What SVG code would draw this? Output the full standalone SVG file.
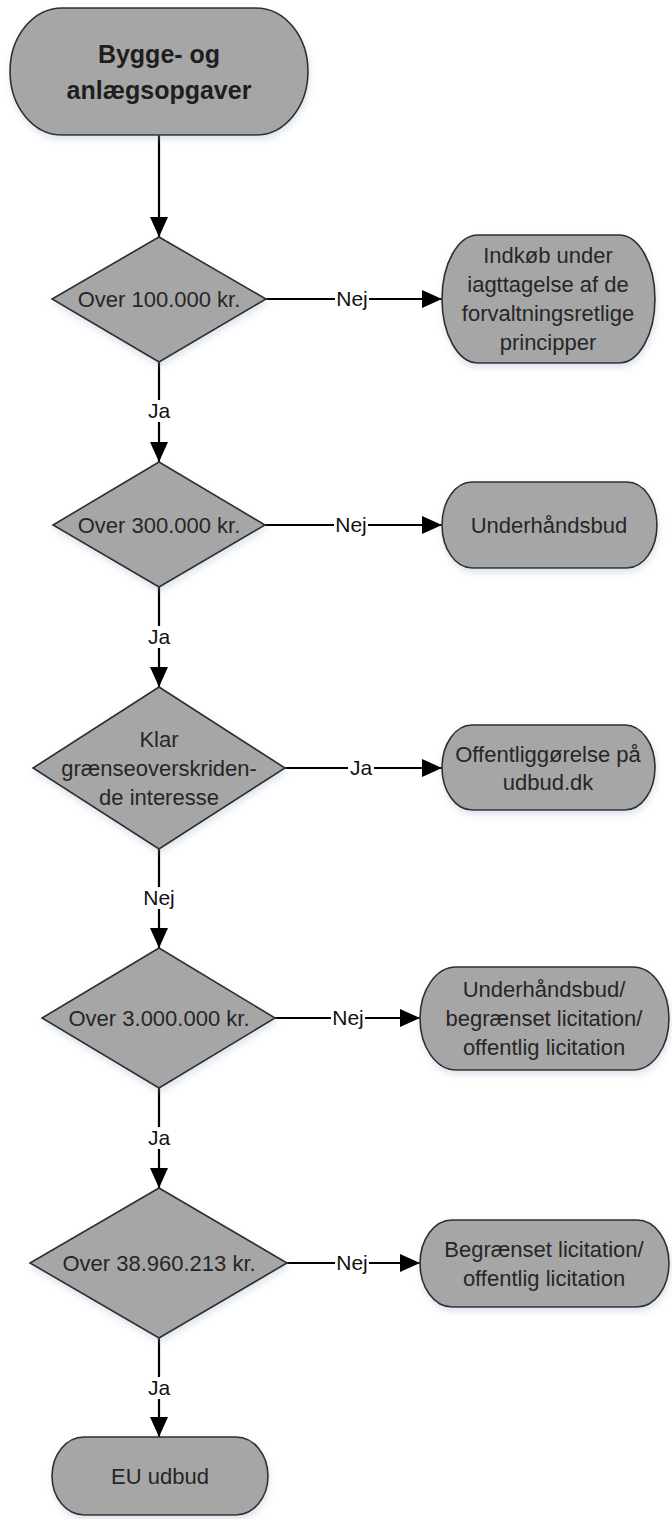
<svg xmlns="http://www.w3.org/2000/svg" width="672" height="1519" viewBox="0 0 672 1519">
<defs>
<style>
.shape{fill:#a6a6a6;stroke:#2e2e2e;stroke-width:1.6;filter:url(#sh)}
.t{font-family:"Liberation Sans",Arial,sans-serif;font-size:22px;fill:#262626;text-anchor:middle}
.tb{font-family:"Liberation Sans",Arial,sans-serif;font-size:25px;font-weight:bold;fill:#1e1e1e;text-anchor:middle}
.c{stroke:#000;stroke-width:2.2;fill:none;marker-end:url(#ah)}
.lb{fill:#fff}
.l{font-family:"Liberation Sans",Arial,sans-serif;font-size:21px;fill:#111;text-anchor:middle}
</style>
<filter id="sh" x="-10%" y="-10%" width="125%" height="135%">
<feDropShadow dx="1" dy="4" stdDeviation="3.5" flood-color="#9db4cc" flood-opacity="0.35"/>
</filter>
<marker id="ah" markerUnits="userSpaceOnUse" markerWidth="20" markerHeight="18" refX="20" refY="9" orient="auto">
<path d="M0,0 L20,9 L0,18 z" fill="#000"/>
</marker>
</defs>
<rect width="672" height="1519" fill="#fff"/>

<g id="connectors">
<line class="c" x1="159" y1="135" x2="159" y2="237"/>
<line class="c" x1="266" y1="299" x2="442" y2="299"/>
<line class="c" x1="159" y1="362" x2="159" y2="462"/>
<line class="c" x1="265" y1="525" x2="442" y2="525"/>
<line class="c" x1="159" y1="587" x2="159" y2="687"/>
<line class="c" x1="285" y1="768" x2="442" y2="768"/>
<line class="c" x1="159" y1="849" x2="159" y2="948"/>
<line class="c" x1="275" y1="1018" x2="420" y2="1018"/>
<line class="c" x1="159" y1="1088" x2="159" y2="1188"/>
<line class="c" x1="287" y1="1263" x2="420" y2="1263"/>
<line class="c" x1="159" y1="1338" x2="159" y2="1437"/>
<g id="labels">
<rect class="lb" x="335" y="288" width="34" height="22"/><text class="l" x="352" y="306">Nej</text>
<rect class="lb" x="146" y="400" width="26" height="22"/><text class="l" x="159" y="418">Ja</text>
<rect class="lb" x="334" y="514" width="34" height="22"/><text class="l" x="351" y="532">Nej</text>
<rect class="lb" x="146" y="626" width="26" height="22"/><text class="l" x="159" y="644">Ja</text>
<rect class="lb" x="348" y="757" width="26" height="22"/><text class="l" x="361" y="775">Ja</text>
<rect class="lb" x="142" y="887" width="34" height="22"/><text class="l" x="159" y="905">Nej</text>
<rect class="lb" x="331" y="1007" width="34" height="22"/><text class="l" x="348" y="1025">Nej</text>
<rect class="lb" x="146" y="1127" width="26" height="22"/><text class="l" x="159" y="1145">Ja</text>
<rect class="lb" x="335" y="1252" width="34" height="22"/><text class="l" x="352" y="1270">Nej</text>
<rect class="lb" x="146" y="1377" width="26" height="22"/><text class="l" x="159" y="1395">Ja</text>
</g>
</g>

<g id="start">
<rect class="shape" x="10" y="8" width="298" height="127" rx="52" ry="63.5"/>
<text class="tb" x="159" y="63">Bygge- og</text>
<text class="tb" x="159" y="99">anlægsopgaver</text>
</g>

<g id="d1">
<polygon class="shape" points="159,237 266,299 159,362 52,299"/>
<text class="t" x="159" y="307">Over 100.000 kr.</text>
</g>
<g id="n1">
<rect class="shape" x="442" y="235" width="213" height="128" rx="36" ry="64"/>
<text class="t" x="548" y="263">Indkøb under</text>
<text class="t" x="548" y="292">iagttagelse af de</text>
<text class="t" x="548" y="321">forvaltningsretlige</text>
<text class="t" x="548" y="350">principper</text>
</g>

<g id="d2">
<polygon class="shape" points="159,462 265,525 159,587 53,525"/>
<text class="t" x="159" y="533">Over 300.000 kr.</text>
</g>
<g id="n2">
<rect class="shape" x="442" y="482" width="215" height="86" rx="30" ry="43"/>
<text class="t" x="549" y="533">Underhåndsbud</text>
</g>

<g id="d3">
<polygon class="shape" points="159,687 285,768 159,849 33,768"/>
<text class="t" x="159" y="747">Klar</text>
<text class="t" x="159" y="776">grænseoverskriden-</text>
<text class="t" x="159" y="805">de interesse</text>
</g>
<g id="n3">
<rect class="shape" x="442" y="725" width="213" height="85" rx="30" ry="42.5"/>
<text class="t" x="548" y="762">Offentliggørelse på</text>
<text class="t" x="548" y="790">udbud.dk</text>
</g>

<g id="d4">
<polygon class="shape" points="159,948 275,1018 159,1088 42,1018"/>
<text class="t" x="159" y="1026">Over 3.000.000 kr.</text>
</g>
<g id="n4">
<rect class="shape" x="420" y="967" width="249" height="103" rx="36" ry="51.5"/>
<text class="t" x="544" y="997">Underhåndsbud/</text>
<text class="t" x="544" y="1026">begrænset licitation/</text>
<text class="t" x="544" y="1055">offentlig licitation</text>
</g>

<g id="d5">
<polygon class="shape" points="159,1188 287,1263 159,1338 30,1263"/>
<text class="t" x="159" y="1271">Over 38.960.213 kr.</text>
</g>
<g id="n5">
<rect class="shape" x="420" y="1220" width="249" height="87" rx="32" ry="43.5"/>
<text class="t" x="544" y="1257">Begrænset licitation/</text>
<text class="t" x="544" y="1286">offentlig licitation</text>
</g>

<g id="eu">
<rect class="shape" x="52" y="1437" width="216" height="78" rx="32" ry="39"/>
<text class="t" x="160" y="1484">EU udbud</text>
</g>
</svg>
